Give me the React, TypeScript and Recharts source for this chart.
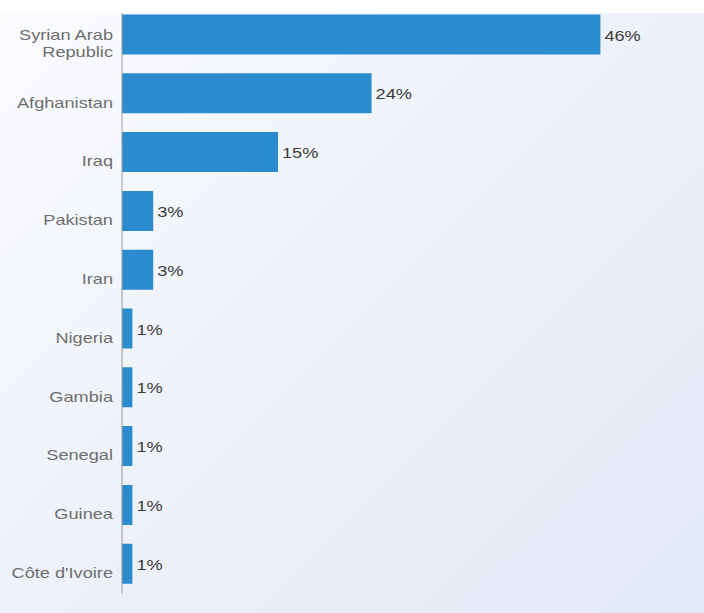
import React from 'react';
import { BarChart, Bar, XAxis, YAxis, LabelList } from 'recharts';

const countries = [
  'Syrian Arab Republic',
  'Afghanistan',
  'Iraq',
  'Pakistan',
  'Iran',
  'Nigeria',
  'Gambia',
  'Senegal',
  'Guinea',
  "Côte d'Ivoire",
];
const shares = [46, 24, 15, 3, 3, 1, 1, 1, 1, 1];

const data = countries.map((name, i) => ({ name, value: shares[i] }));

const FONT = '"Liberation Sans", Arial, Helvetica, sans-serif';
const STRETCH = 1.3;

function wrap(text: string, maxChars: number): string[] {
  const words = text.split(' ');
  const lines: string[] = [];
  let cur = '';
  for (const w of words) {
    const next = cur ? cur + ' ' + w : w;
    if (next.length > maxChars && cur) {
      lines.push(cur);
      cur = w;
    } else {
      cur = next;
    }
  }
  if (cur) lines.push(cur);
  return lines;
}

const CatTick = (props: any) => {
  const { x, y, payload } = props;
  const lines = wrap(String(payload.value), 13);
  const lh = 17;
  const first = 14 - ((lines.length - 1) * lh) / 2;
  return (
    <g transform={`translate(${x - 1},${y}) scale(${STRETCH},1)`}>
      <text
        x={0}
        y={first}
        textAnchor="end"
        fontSize={14}
        fontFamily={FONT}
        fill="#6e6e6e"
      >
        {lines.map((l, i) => (
          <tspan key={i} x={0} dy={i === 0 ? 0 : lh}>
            {l}
          </tspan>
        ))}
      </text>
    </g>
  );
};

const ValueLabel = (props: any) => {
  const { x, y, width, height, value } = props;
  const tx = Number(x) + Number(width) + 4;
  const ty = Number(y) + Number(height) / 2 + 6;
  return (
    <g transform={`translate(${tx},${ty}) scale(${STRETCH},1)`}>
      <text x={0} y={0} textAnchor="start" fontSize={14} fontFamily={FONT} fill="#3c3c3c">
        {`${value}%`}
      </text>
    </g>
  );
};

export default function App() {
  return (
    <div
      style={{
        position: 'absolute',
        left: 0,
        top: 0,
        width: 704,
        height: 613,
        background:
          'linear-gradient(#ffffff, #ffffff) top / 100% 13px no-repeat, linear-gradient(135deg, #fbfcfe 0%, #eef2fa 45%, #e2e8f5 100%)',
      }}
    >
      <BarChart
        width={704}
        height={613}
        data={data}
        layout="vertical"
        margin={{ top: 5.5, right: 62, bottom: 19.5, left: 0 }}
      >
        <XAxis type="number" domain={[0, 50]} hide />
        <YAxis
          type="category"
          dataKey="name"
          width={122}
          tickLine={false}
          axisLine={{ stroke: '#9a9a9a', strokeWidth: 1, strokeDasharray: '0 7.5 10000' }}
          tick={CatTick}
          interval={0}
        />
        <Bar dataKey="value" fill="#2a8ccf" barSize={40} isAnimationActive={false}>
          <LabelList dataKey="value" content={ValueLabel} />
        </Bar>
      </BarChart>
    </div>
  );
}
